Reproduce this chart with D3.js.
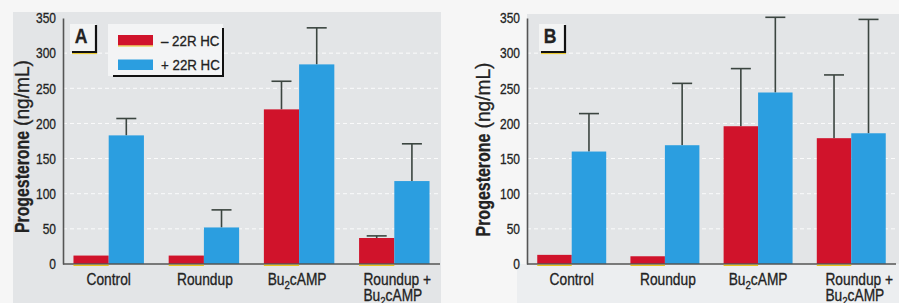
<!DOCTYPE html>
<html>
<head>
<meta charset="utf-8">
<script src="https://cdn.jsdelivr.net/npm/d3@7"></script>
<style>
  body { margin: 0; background: #f7f7f7; }
  svg { display: block; }
  text { font-family: "Liberation Sans", Arial, sans-serif; fill: #222; stroke: #222; stroke-width: 0.3px; }
</style>
</head>
<body>
<div id="chart"></div>
<script>
// categories and series
const categories = ["Control", "Roundup", "Bu2cAMP", "Roundup + Bu2cAMP"];
// label lines, "_2" marks a subscript 2
const catLabels = [["Control"], ["Roundup"], ["Bu_2cAMP"], ["Roundup +", "Bu_2cAMP"]];
const seriesNames = ["\u2013 22R HC", "+ 22R HC"];
const yTicks = [0, 50, 100, 150, 200, 250, 300, 350];

// panel A values (ng/mL) and upper error (SD)
const aMinus = [12, 12, 220, 37];
const aMinusSd = [0, 0, 40, 3];
const aPlus = [183, 52, 284, 118];
const aPlusSd = [24, 25, 52, 53];

// panel B
const bMinus = [13, 11, 196, 179];
const bMinusSd = [0, 0, 82, 90];
const bPlus = [160, 169, 244, 186];
const bPlusSd = [54, 88, 107, 162];

const red = "#d0132b", blue = "#2b9ee0";
const width = 899, height = 303;

const svg = d3.select("#chart").append("svg")
  .attr("width", width).attr("height", height);

svg.append("rect").attr("width", width).attr("height", height).attr("fill", "#f6f6f6");

// condensed look: squeeze liberation sans horizontally
function squeeze(sel, x, y, sx) {
  return sel.attr("transform", `translate(${x},${y}) scale(${sx},1)`);
}

function addLabel(sel, str) {
  // split "_2" into subscript tspans
  const parts = str.split("_2");
  parts.forEach((p, i) => {
    if (i > 0) sel.append("tspan").attr("font-size", "0.7em").attr("dy", 4).text("2");
    const t = sel.append("tspan").text(p);
    if (i > 0) t.attr("dy", -4);
  });
}

function drawPanel(p) {
  const g = svg.append("g");
  const y = d3.scaleLinear().domain([0, 350]).range([264, 18]);

  // background
  if (p.fullBox) {
    g.append("rect").attr("x", 13).attr("y", 12).attr("width", p.x1 - 13 + 1).attr("height", height - 12)
      .attr("fill", "#e3e5e7");
  } else {
    g.append("rect").attr("x", p.x0).attr("y", 14).attr("width", width - p.x0).attr("height", y(0) - 14)
      .attr("fill", "#e3e5e7");
    g.append("rect").attr("x", p.x0 - 10).attr("y", y(0)).attr("width", width - p.x0 + 10).attr("height", height - y(0))
      .attr("fill", "#eceef0");
  }

  const x = d3.scaleBand().domain(categories).range([p.x0, p.x1])
    .paddingInner(0.26).paddingOuter(0.11);
  const xs = d3.scaleBand().domain(seriesNames).range([0, x.bandwidth()]);

  // dashed white grid
  g.append("g").selectAll("line")
    .data(yTicks.filter(d => d > 0 && d < 350))
    .join("line")
    .attr("x1", p.x0).attr("x2", p.x1)
    .attr("y1", d => y(d)).attr("y2", d => y(d))
    .attr("stroke", "#ffffff").attr("stroke-width", 1)
    .attr("stroke-dasharray", "4,3").attr("opacity", 0.9);

  const rows = categories.map((c, i) => [
    { cat: c, s: seriesNames[0], v: p.minus[i], sd: p.minusSd[i], color: red },
    { cat: c, s: seriesNames[1], v: p.plus[i], sd: p.plusSd[i], color: blue }
  ]).flat();

  // error bars (upper only)
  const eb = g.append("g").attr("stroke", "#3b4540").attr("stroke-width", 1.6);
  rows.filter(d => d.sd > 0).forEach(d => {
    const cx = x(d.cat) + xs(d.s) + xs.bandwidth() / 2;
    eb.append("line").attr("x1", cx).attr("x2", cx).attr("y1", y(d.v)).attr("y2", y(d.v + d.sd));
    eb.append("line").attr("x1", cx - 10).attr("x2", cx + 10).attr("y1", y(d.v + d.sd)).attr("y2", y(d.v + d.sd));
  });

  // bars
  g.append("g").selectAll("rect")
    .data(rows)
    .join("rect")
    .attr("x", d => x(d.cat) + xs(d.s))
    .attr("width", xs.bandwidth())
    .attr("y", d => y(d.v))
    .attr("height", d => y(0) - y(d.v))
    .attr("fill", d => d.color);

  // axes
  const tsx = 0.8;
  const yAxis = g.append("g").attr("transform", `translate(${p.x0},0)`)
    .call(d3.axisLeft(y).tickValues(yTicks).tickSize(0).tickPadding(7 / tsx));
  yAxis.select(".domain").attr("stroke", "#555").attr("stroke-width", 1.6);
  yAxis.selectAll("text").attr("font-size", 15).attr("fill", "#222")
    .attr("transform", `scale(${tsx},1)`)
    .style("font-family", "'Liberation Sans', Arial, sans-serif");

  g.append("line").attr("x1", p.x0).attr("x2", p.x1).attr("y1", y(0)).attr("y2", y(0))
    .attr("stroke", "#555").attr("stroke-width", 1.6);

  // yellow misregistration under red bars
  g.append("g").selectAll("line")
    .data(rows.filter(d => d.color === red))
    .join("line")
    .attr("x1", d => x(d.cat) + xs(d.s)).attr("x2", d => x(d.cat) + xs(d.s) + xs.bandwidth())
    .attr("y1", y(0) + 1.3).attr("y2", y(0) + 1.3)
    .attr("stroke", "#e8c41c").attr("stroke-width", 1.2);

  // category labels
  const csx = 0.86;
  catLabels.forEach((lines, i) => {
    const cx = x(categories[i]) + x.bandwidth() / 2 + p.labelShift[i];
    const texts = lines.map((ln, j) => {
      const t = g.append("text").attr("font-size", 16);
      addLabel(t, ln);
      return t;
    });
    if (lines.length > 1) {
      const w0 = texts[0].node().getComputedTextLength() * csx;
      texts.forEach((t, j) => squeeze(t, cx - w0 / 2, 285 + j * 16, csx));
    } else {
      texts[0].attr("text-anchor", "middle");
      squeeze(texts[0], cx, 285, csx);
    }
  });

  // y label, bold word and unit fitted to the reference lengths
  g.append("text").attr("font-size", 20).attr("font-weight", "bold")
    .attr("transform", `translate(${p.ylabX},${p.ylabY0}) rotate(-90)`)
    .attr("textLength", p.ylabLen[0]).attr("lengthAdjust", "spacingAndGlyphs")
    .text("Progesterone");
  g.append("text").attr("font-size", 20)
    .attr("transform", `translate(${p.ylabX},${p.ylabY0 - p.ylabLen[0] - 5}) rotate(-90)`)
    .attr("textLength", p.ylabLen[1]).attr("lengthAdjust", "spacingAndGlyphs")
    .text("(ng/mL)");

  // panel letter with L-shaped rule
  const lx = p.letterX;
  g.append("rect").attr("x", lx - 2).attr("y", 24).attr("width", 26).attr("height", 27).attr("fill", "#f3f4f4");
  const lt = g.append("text").attr("text-anchor", "middle")
    .attr("font-size", 20).attr("font-weight", "bold").text(p.id);
  squeeze(lt, lx + 9, 42.5, 0.88);
  g.append("path").attr("d", `M${lx + 24},25 V52 H${lx}`).attr("fill", "none")
    .attr("stroke", "#111").attr("stroke-width", 2.2);
  g.append("line").attr("x1", lx).attr("x2", lx + 25).attr("y1", 53.6).attr("y2", 53.6)
    .attr("stroke", "#e8c41c").attr("stroke-width", 1);

  // legend
  if (p.legend) {
    const lg = g.append("g");
    lg.append("rect").attr("x", 108).attr("y", 24).attr("width", 115).attr("height", 52).attr("fill", "#f3f4f5");
    lg.append("path").attr("d", "M223,28 V76 H113").attr("fill", "none").attr("stroke", "#111").attr("stroke-width", 2);
    seriesNames.forEach((s, i) => {
      const yy = 35 + i * 24.5;
      lg.append("rect").attr("x", 118).attr("y", yy).attr("width", 35).attr("height", 10.5)
        .attr("fill", i === 0 ? red : blue);
      if (i === 0) lg.append("line").attr("x1", 118).attr("x2", 153).attr("y1", yy + 11).attr("y2", yy + 11)
        .attr("stroke", "#e8c41c").attr("stroke-width", 1);
      const t = lg.append("text").attr("font-size", 15.5).text(s);
      squeeze(t, 161, yy + 10.5, 0.86);
    });
  }
}

drawPanel({ id: "A", minus: aMinus, minusSd: aMinusSd, plus: aPlus, plusSd: aPlusSd,
  x0: 63, x1: 440, fullBox: true, legend: true, ylabX: 28.5, ylabY0: 233, ylabLen: [102, 66], letterX: 72,
  labelShift: [0, 1, -2, 3] });
drawPanel({ id: "B", minus: bMinus, minusSd: bMinusSd, plus: bPlus, plusSd: bPlusSd,
  x0: 527, x1: 896, fullBox: false, legend: false, ylabX: 489.5, ylabY0: 236.5, ylabLen: [103, 66], letterX: 541,
  labelShift: [0, 3, 0, 8] });
</script>
</body>
</html>
